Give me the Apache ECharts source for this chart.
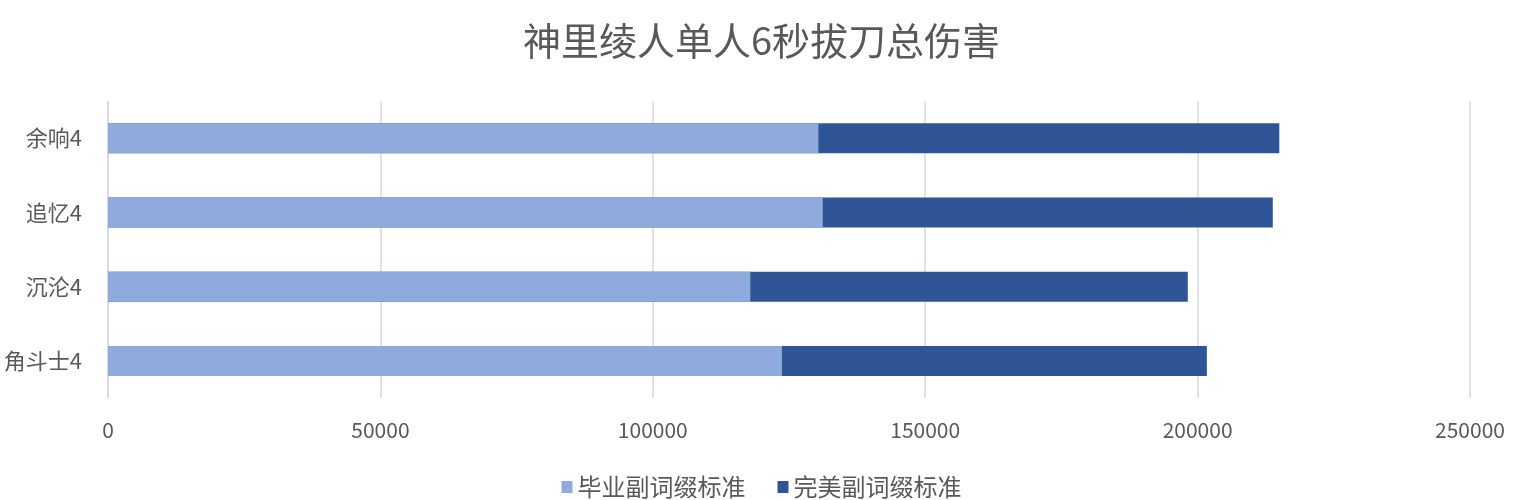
<!DOCTYPE html>
<html>
<head>
<meta charset="utf-8">
<script src="https://cdn.jsdelivr.net/npm/echarts@6/dist/echarts.min.js"></script>
<style>html,body{margin:0;padding:0;background:#fff}#c{width:1523px;height:500px}</style>
</head>
<body>
<div id="c"></div>
<script>
const categories = ['角斗士4', '沉沦4', '追忆4', '余响4'];
const seriesNames = ['毕业副词缀标准', '完美副词缀标准'];
const graduateValues = [123700, 117900, 131200, 130400];
const perfectValues = [201700, 198200, 213800, 215000];
const xTicks = { min: 0, max: 250000, interval: 50000 };

const font = '"Noto Sans CJK SC", "Noto Sans", sans-serif';
const chart = echarts.init(document.getElementById('c'));
chart.setOption({
  animation: false,
  title: {
    text: '神里绫人单人6秒拔刀总伤害',
    left: 'center', top: 17,
    textStyle: { fontFamily: font, fontSize: 38, fontWeight: 'normal', color: '#595959' }
  },
  legend: {
    data: seriesNames,
    left: 'center', top: 470,
    icon: 'rect', itemWidth: 11, itemHeight: 12, itemGap: 32,
    textStyle: { fontFamily: font, fontSize: 24, color: '#595959' }
  },
  grid: { left: 108, right: 53, top: 101, bottom: 102, containLabel: false },
  xAxis: {
    type: 'value', min: xTicks.min, max: xTicks.max, interval: xTicks.interval,
    axisLine: { show: false }, axisTick: { show: false },
    splitLine: { lineStyle: { color: '#d9d9d9', width: 1.5 } },
    axisLabel: { fontFamily: font, fontSize: 21, color: '#595959', margin: 22,
      formatter: v => String(v) }
  },
  yAxis: {
    type: 'category', data: categories,
    axisLine: { show: true, lineStyle: { color: '#d9d9d9', width: 1.5 } },
    axisTick: { show: false },
    axisLabel: { fontFamily: font, fontSize: 22, color: '#595959', margin: 26 }
  },
  series: [
    { name: seriesNames[0], type: 'bar', data: graduateValues, barWidth: 30, barGap: '-100%', z: 3,
      itemStyle: { color: '#8faadc' } },
    { name: seriesNames[1], type: 'bar', data: perfectValues, barWidth: 30, barGap: '-100%', z: 2,
      itemStyle: { color: '#2f5597' } }
  ]
});
</script>
</body>
</html>
